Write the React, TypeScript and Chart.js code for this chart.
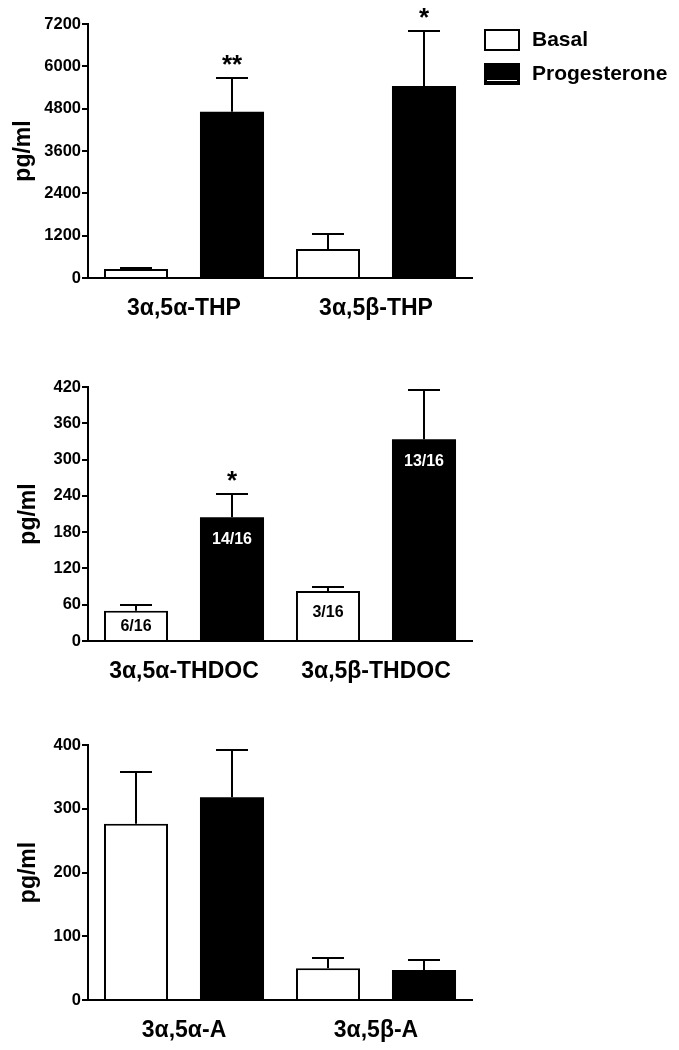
import React, { useEffect, useRef } from "react";
import { Chart, registerables } from "chart.js";
Chart.register(...registerables);

const FONT = "'Liberation Sans', Arial, Helvetica, sans-serif";

// ---------- Panel 1: THP ----------
const thpCategories = ["3α,5α-THP", "3α,5β-THP"];
const thpBasal = [255, 822];
const thpBasalSem = [25, 425];
const thpProg = [4714, 5443];
const thpProgSem = [955, 1558];
const thpBasalMarks = ["", ""];
const thpProgMarks = ["**", "*"];
const thpYMax = 7200;
const thpYStep = 1200;

// ---------- Panel 2: THDOC ----------
const thdocCategories = ["3α,5α-THDOC", "3α,5β-THDOC"];
const thdocBasal = [50, 82.7];
const thdocBasalSem = [9.5, 6];
const thdocProg = [204.5, 333.5];
const thdocProgSem = [38, 81.5];
const thdocBasalMarks = ["", ""];
const thdocProgMarks = ["*", ""];
const thdocBasalN = ["6/16", "3/16"];
const thdocProgN = ["14/16", "13/16"];
const thdocYMax = 420;
const thdocYStep = 60;

// ---------- Panel 3: A ----------
const aCategories = ["3α,5α-A", "3α,5β-A"];
const aBasal = [276.6, 49.7];
const aBasalSem = [81.4, 16.7];
const aProg = [318, 47];
const aProgSem = [74, 15.3];
const aYMax = 400;
const aYStep = 100;

const seriesNames = ["Basal", "Progesterone"];
const yTitle = "pg/ml";

const W = 679;

const annotPlugin = {
  id: "annot",
  afterDatasetsDraw(chart: any) {
    const ctx = chart.ctx;
    const y = chart.scales.y;
    chart.data.datasets.forEach((ds: any, i: number) => {
      const meta = chart.getDatasetMeta(i);
      meta.data.forEach((bar: any, j: number) => {
        const v = ds.data[j];
        const e = ds.sem ? ds.sem[j] : 0;
        const yTop = Math.round(y.getPixelForValue(v + e));
        const x = Math.round(bar.x);
        const yb = bar.y;
        ctx.save();
        ctx.strokeStyle = "#000";
        ctx.lineWidth = 2;
        ctx.beginPath();
        ctx.moveTo(x, yb);
        ctx.lineTo(x, yTop);
        ctx.moveTo(x - 16, yTop);
        ctx.lineTo(x + 16, yTop);
        ctx.stroke();
        if (ds.marks && ds.marks[j]) {
          ctx.fillStyle = "#000";
          ctx.font = `bold 26px ${FONT}`;
          ctx.textAlign = "center";
          ctx.textBaseline = "alphabetic";
          ctx.fillText(ds.marks[j], x, yTop - 5);
        }
        if (ds.inner && ds.inner[j]) {
          const bottom = y.getPixelForValue(0);
          const cy = Math.min(yb + 22, (yb + bottom) / 2 + 1);
          ctx.fillStyle = ds.innerColor;
          ctx.font = `bold 16px ${FONT}`;
          ctx.textAlign = "center";
          ctx.textBaseline = "middle";
          ctx.fillText(ds.inner[j], x, cy);
        }
        ctx.restore();
      });
    });
    // y title
    const area = chart.chartArea;
    ctx.save();
    ctx.translate(chart.options.titleX, (area.top + area.bottom) / 2);
    ctx.rotate(-Math.PI / 2);
    ctx.fillStyle = "#000";
    ctx.font = `bold 23px ${FONT}`;
    ctx.textAlign = "center";
    ctx.textBaseline = "middle";
    ctx.fillText(yTitle, 0, 0);
    ctx.restore();
    // legend
    if (chart.options.showLegend) {
      ctx.save();
      const bx = 485, bw = 34, bh = 20;
      const rows = [30, 64];
      chart.data.datasets.forEach((ds: any, i: number) => {
        const ty = rows[i];
        ctx.fillStyle = ds.backgroundColor;
        ctx.fillRect(bx - 1, ty - 1, bw + 2, bh + 2);
        ctx.strokeStyle = "#000";
        ctx.lineWidth = 2;
        ctx.strokeRect(bx, ty, bw, bh);
        if (i === 1) {
          ctx.strokeStyle = "#fff";
          ctx.lineWidth = 1;
          ctx.beginPath();
          ctx.moveTo(bx + 2, ty + 16.5);
          ctx.lineTo(bx + bw - 2, ty + 16.5);
          ctx.stroke();
        }
        ctx.fillStyle = "#000";
        ctx.font = `bold 21px ${FONT}`;
        ctx.textAlign = "left";
        ctx.textBaseline = "middle";
        ctx.fillText(ds.label, 532, ty + bh / 2);
      });
      ctx.restore();
    }
  },
};

type PanelProps = {
  top: number;
  height: number;
  areaTop: number;
  areaBottom: number;
  titleX: number;
  labels: string[];
  datasets: any[];
  yMax: number;
  yStep: number;
  showLegend?: boolean;
};

function Panel(p: PanelProps) {
  const ref = useRef<HTMLCanvasElement>(null);
  useEffect(() => {
    if (!ref.current) return;
    const chart = new Chart(ref.current, {
      type: "bar",
      data: { labels: p.labels, datasets: p.datasets },
      options: {
        responsive: false,
        animation: false,
        devicePixelRatio: 1,
        titleX: p.titleX,
        showLegend: !!p.showLegend,
        layout: { padding: { left: 0, right: W - 472, top: p.areaTop, bottom: 0 } },
        plugins: { legend: { display: false }, tooltip: { enabled: false } },
        scales: {
          x: {
            type: "category",
            offset: true,
            grid: { display: false, drawTicks: false },
            border: { display: true, color: "#000", width: 2 },
            ticks: {
              color: "#000",
              font: { family: FONT, size: 23, weight: "bold" },
              padding: 17,
              maxRotation: 0,
              autoSkip: false,
            },
            afterFit: (s: any) => {
              s.height = p.height - p.areaBottom;
            },
          },
          y: {
            min: 0,
            max: p.yMax,
            ticks: {
              stepSize: p.yStep,
              color: "#000",
              font: { family: FONT, size: 16.5, weight: "bold" },
              padding: 1,
              callback: (v: any) => String(v),
            },
            grid: {
              display: true,
              drawOnChartArea: false,
              drawTicks: true,
              tickLength: 6,
              color: "#000",
              lineWidth: 2,
            },
            border: { display: true, color: "#000", width: 2 },
            afterFit: (s: any) => {
              s.width = 88;
            },
          },
        },
      } as any,
      plugins: [annotPlugin],
    });
    return () => chart.destroy();
  }, []);
  return (
    <canvas
      ref={ref}
      width={W}
      height={p.height}
      style={{ position: "absolute", left: 0, top: p.top, width: W, height: p.height }}
    />
  );
}

function ds(label: string, data: number[], sem: number[], extra: any = {}) {
  const black = label === seriesNames[1];
  return {
    label,
    data,
    sem,
    backgroundColor: black ? "#000" : "#fff",
    borderColor: "#000",
    borderWidth: black ? 0 : 2,
    inflateAmount: 0,
    categoryPercentage: 1,
    barPercentage: 0.667,
    ...extra,
  };
}

export default function App() {
  return (
    <div style={{ position: "fixed", left: 0, top: 0, width: W, height: 1050, background: "#fff" }}>
      <Panel
        top={0}
        height={340}
        areaTop={24}
        areaBottom={278}
        titleX={24}
        labels={thpCategories}
        yMax={thpYMax}
        yStep={thpYStep}
        showLegend
        datasets={[
          ds(seriesNames[0], thpBasal, thpBasalSem, { marks: thpBasalMarks }),
          ds(seriesNames[1], thpProg, thpProgSem, { marks: thpProgMarks }),
        ]}
      />
      <Panel
        top={340}
        height={360}
        areaTop={47}
        areaBottom={301}
        titleX={29}
        labels={thdocCategories}
        yMax={thdocYMax}
        yStep={thdocYStep}
        datasets={[
          ds(seriesNames[0], thdocBasal, thdocBasalSem, { marks: thdocBasalMarks, inner: thdocBasalN, innerColor: "#000" }),
          ds(seriesNames[1], thdocProg, thdocProgSem, { marks: thdocProgMarks, inner: thdocProgN, innerColor: "#fff" }),
        ]}
      />
      <Panel
        top={700}
        height={350}
        areaTop={45}
        areaBottom={300}
        titleX={29}
        labels={aCategories}
        yMax={aYMax}
        yStep={aYStep}
        datasets={[
          ds(seriesNames[0], aBasal, aBasalSem),
          ds(seriesNames[1], aProg, aProgSem),
        ]}
      />
    </div>
  );
}
